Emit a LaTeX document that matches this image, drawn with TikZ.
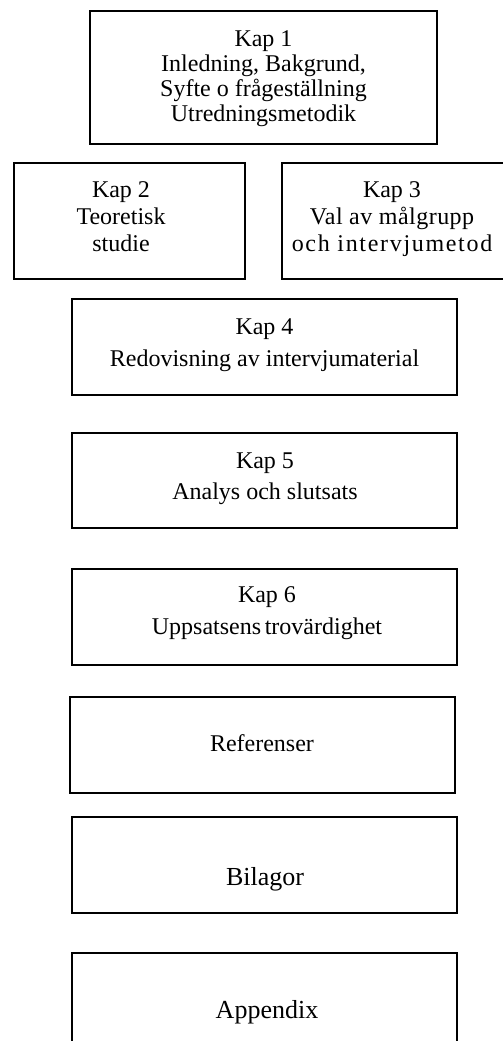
\documentclass[tikz,border=0pt]{standalone}
\usepackage{fontspec}
\setmainfont{Liberation Serif}
\begin{document}
\begin{tikzpicture}[x=1pt,y=-1pt,
  box/.style={draw=black,line width=1.1pt,rectangle,inner sep=0pt},
  txt/.style={align=center,inner sep=0pt,font=\fontsize{24}{25}\selectfont},
  big/.style={inner sep=0pt,font=\fontsize{26}{28}\selectfont}]
\useasboundingbox (0,0) rectangle (503,1041);
% boxes
\node[box,minimum width=347pt,minimum height=133pt] (b1) at (263.5,77.5) {};
\node[box,minimum width=231pt,minimum height=116pt] (b2) at (129.5,221) {};
\node[box,minimum width=240pt,minimum height=116pt] (b3) at (402,221) {};
\node[box,minimum width=385pt,minimum height=96pt] (b4) at (264.5,347) {};
\node[box,minimum width=385pt,minimum height=95pt] (b5) at (264.5,480.5) {};
\node[box,minimum width=385pt,minimum height=96pt] (b6) at (264.5,617) {};
\node[box,minimum width=385pt,minimum height=96pt] (b7) at (262.5,745) {};
\node[box,minimum width=385pt,minimum height=96pt] (b8) at (264.5,865) {};
\node[box,minimum width=385pt,minimum height=110pt] (b9) at (264.5,1008) {};
% texts
\node[txt] (t1) at (263.5,79) {Kap 1\\Inledning, Bakgrund,\\Syfte o frågeställning\\Utredningsmetodik};
\node[txt,font=\fontsize{24}{27}\selectfont] (t2) at (121,217) {Kap 2\\Teoretisk\\studie};
\node[txt,font=\fontsize{24}{27}\selectfont] (t3) at (392,219) {Kap 3\\{\addfontfeature{LetterSpace=2}Val av målgrupp}\\{\addfontfeature{LetterSpace=7}och intervjumetod}};
\node[txt,font=\fontsize{24}{32}\selectfont] (t4) at (264.5,345.5) {Kap 4\\Redovisning av intervjumaterial};
\node[txt,font=\fontsize{24}{31}\selectfont] (t5) at (265,479) {Kap 5\\Analys och slutsats};
\node[txt,font=\fontsize{24}{32}\selectfont] (t6) at (267,613.5) {Kap 6\\Uppsatsens\hspace{-0.1em} trovärdighet};
\node[txt,anchor=base] (t7) at (262,751) {Referenser};
\node[big,anchor=base] (t8) at (265,885) {Bilagor};
\node[big,anchor=base] (t9) at (267,1018) {Appendix};
\end{tikzpicture}
\end{document}
